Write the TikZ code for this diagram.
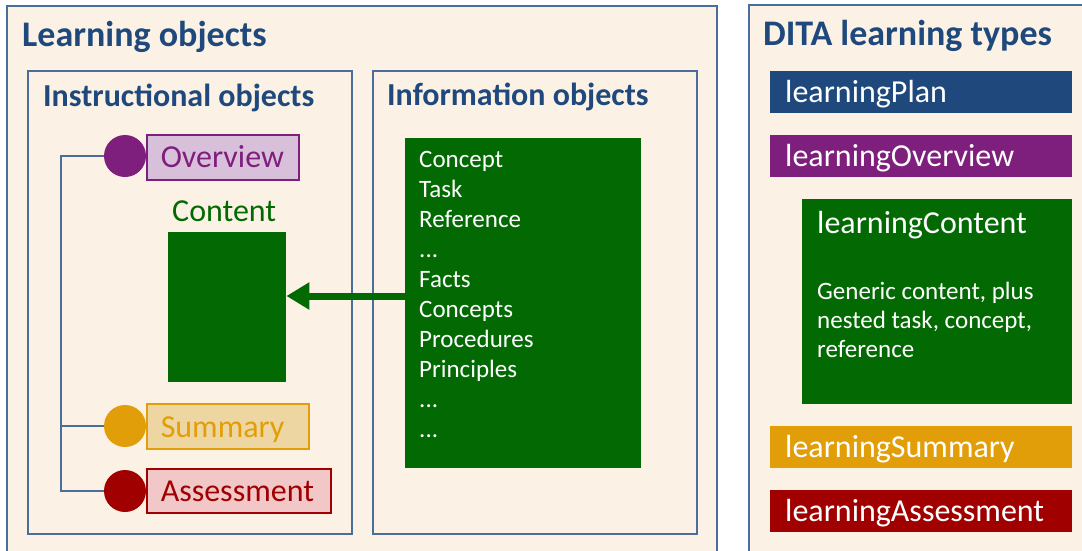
\documentclass[tikz,border=0pt]{standalone}
\usepackage{fontspec}
\setmainfont{Carlito}
\usetikzlibrary{arrows.meta}
\definecolor{cream}{HTML}{FBF2E5}
\definecolor{panelblue}{HTML}{4A6E9C}
\definecolor{navy}{HTML}{1F497D}
\definecolor{purp}{HTML}{7F1F7D}
\definecolor{purpl}{HTML}{D9C0DA}
\definecolor{orng}{HTML}{E29E08}
\definecolor{orngl}{HTML}{EED6A3}
\definecolor{dred}{HTML}{A00000}
\definecolor{dredl}{HTML}{F2C7C8}
\definecolor{dgreen}{HTML}{036A03}
\newcommand\myfs[1]{\fontsize{#1}{#1}\selectfont}
\newcommand\mydots{...}
\begin{document}
\begin{tikzpicture}[x=1pt,y=-1pt,
  panel/.style={draw=panelblue, line width=1.5pt, fill=cream},
  framebox/.style={draw=panelblue, line width=2pt, anchor=north west, inner sep=0pt},
  ttl/.style={anchor=base west, inner sep=0pt, text=navy, font={\bfseries\myfs{36}}},
  subttl/.style={anchor=base west, inner sep=0pt, text=navy, font={\bfseries\myfs{32}}},
  dot/.style={circle, minimum size=42pt, inner sep=0pt, fill=#1},
  tag/.style={anchor=north west, inner xsep=14pt, inner ysep=0pt, align=left, line width=1.5pt, font=\myfs{32}},
  bar/.style={anchor=north west, fill=#1, text=white, inner xsep=15pt, inner ysep=0pt,
    text width=272pt, align=left, minimum height=42pt, text height=31pt, text depth=11pt, font=\myfs{32}},
  listtxt/.style={anchor=base west, inner sep=0pt, text=white, font=\myfs{25}},
  spine/.style={draw=panelblue, line width=2pt},
  bigarrow/.style={draw=dgreen, line width=7pt, -{Triangle[length=23pt,width=26pt]}}
]
\useasboundingbox (0,0) rectangle (1082,550);
\fill[white] (0,0) rectangle (1082,550);
% panels
\draw[panel] (7,6) rectangle (717,575);
\draw[panel] (749,5) rectangle (1095,575);
\node[ttl] (tlo) at (22,46) {Learning objects};
\node[ttl] (tdita) at (763,45) {DITA learning types};

% instructional objects
\node[framebox, minimum width=324pt, minimum height=463pt] (instr) at (27,70) {};
\node[subttl] (tinstr) at (43,106) {Instructional objects};
% information objects
\node[framebox, minimum width=324pt, minimum height=463pt] (inform) at (372,70) {};
\node[subttl] (tinform) at (387,105) {Information objects};

% tags with circles
\node[tag, draw=purp, fill=purpl, text=purp, text width=124pt, text height=33pt, text depth=12pt] (ov) at (146,134) {Overview};
\node[dot=purp] (ovc) at (125,156) {};
\node[tag, draw=orng, fill=orngl, text=orng, text width=134pt, text height=34pt, text depth=11pt] (sm) at (146,403) {Summary};
\node[dot=orng] (smc) at (125,426) {};
\node[tag, draw=dred, fill=dredl, text=dred, text width=156pt, text height=33pt, text depth=11pt] (as) at (146,468) {Assessment};
\node[dot=dred] (asc) at (125,491) {};

\coordinate (trunk) at (61,156);
\draw[spine] (ovc.west) -- (trunk) |- (asc.west);
\draw[spine] (smc.west) -- (smc.west -| trunk);

% content
\node[anchor=base west, inner sep=0pt, text=dgreen, font=\myfs{32}] (tcontent) at (172,221) {Content};
\node[anchor=north west, fill=dgreen, minimum width=118pt, minimum height=150pt, inner sep=0pt] (cbox) at (168,232) {};

% information box
\node[anchor=north west, fill=dgreen, minimum width=236pt, minimum height=330pt, inner sep=0pt] (info) at (405,138) {};
\foreach \t [count=\i from 0] in {Concept,Task,Reference,\mydots,Facts,Concepts,Procedures,Principles,\mydots,\mydots}
  \node[listtxt] (il\i) at (419,167+30*\i) {\t};

\coordinate (arr) at (0,296);
\draw[bigarrow] (info.west |- arr) -- (cbox.east |- arr);

% DITA learning types
\node[bar=navy] (lplan) at (770,71) {learningPlan};
\node[bar=purp] (lover) at (770,135) {learningOverview};
\node[anchor=north west, fill=dgreen, minimum width=270pt, minimum height=205pt, inner sep=0pt] (lcont) at (802,199) {};
\node[anchor=base west, inner sep=0pt, text=white, font=\myfs{32}] (tlcont) at (817,233) {learningContent};
\node[listtxt] (g1) at (817,299) {Generic content, plus};
\node[listtxt] (g2) at (817,328) {nested task, concept,};
\node[listtxt] (g3) at (817,357) {reference};
\node[bar=orng] (lsum) at (770,426) {learningSummary};
\node[bar=dred] (lass) at (770,490) {learningAssessment};
\end{tikzpicture}
\end{document}
